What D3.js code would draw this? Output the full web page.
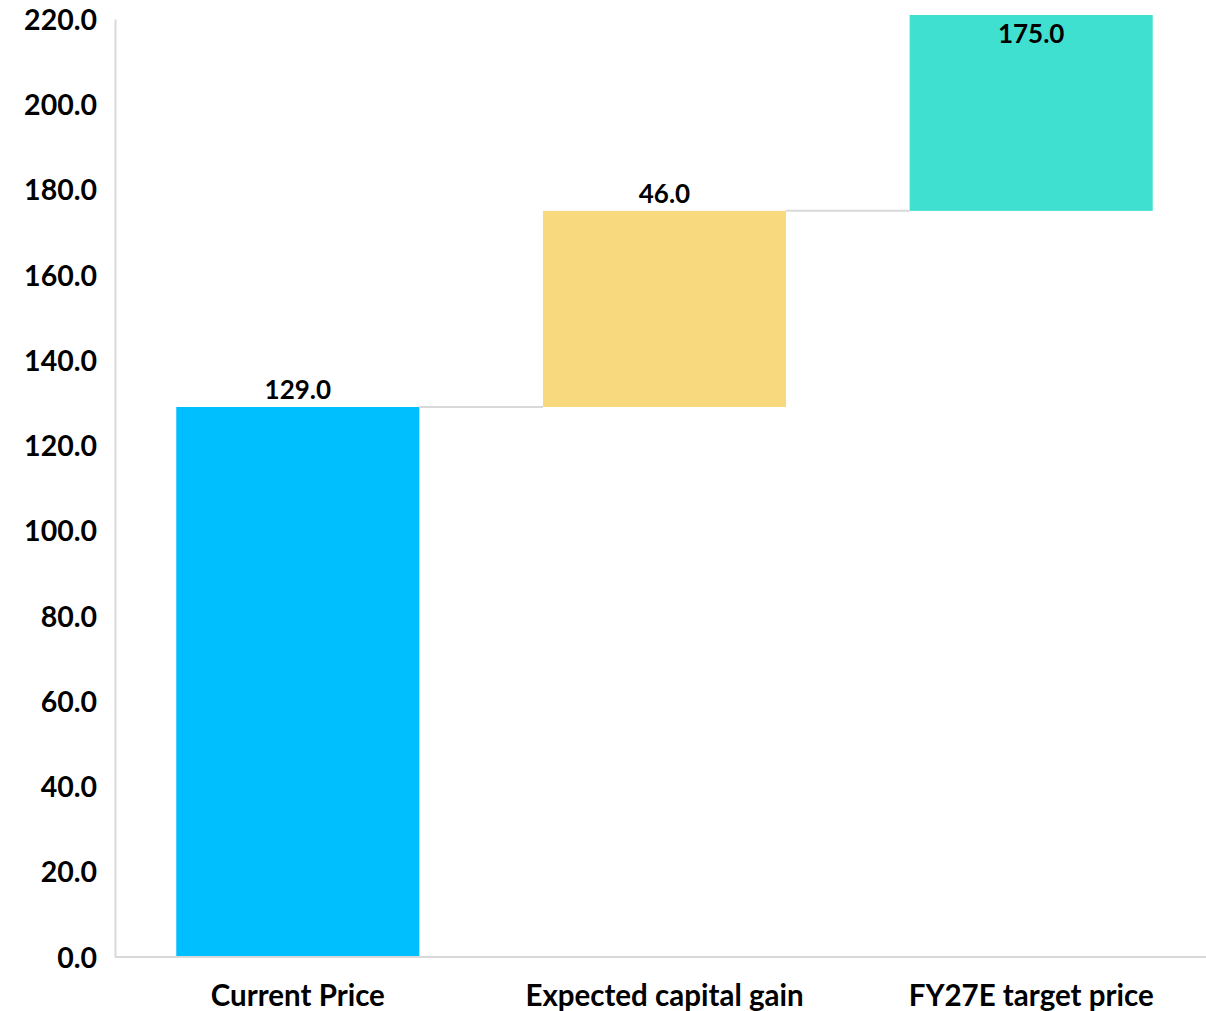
<!DOCTYPE html>
<html><head><meta charset="utf-8">
<script src="https://cdn.jsdelivr.net/npm/d3@7"></script>
<style>body{margin:0;background:#fff}svg{display:block}</style>
</head><body>
<script>
const categories = ["Current Price", "Expected capital gain", "FY27E target price"];
const values = [129.0, 46.0, 175.0];
const bases = [0, 129.0, 175.0];
const colors = ["#00BFFF", "#F9D97E", "#40E0D0"];
const yTicks = [0, 20, 40, 60, 80, 100, 120, 140, 160, 180, 200, 220];

const W = 1206, H = 1011;
const svg = d3.select("body").append("svg").attr("width", W).attr("height", H);
const font = "Lato, 'Open Sans', sans-serif";

const y = d3.scaleLinear().domain([0, 220]).range([957, 19]);
const x = d3.scaleBand().domain(categories).range([114.5, 1214.5]).paddingInner(0.337).paddingOuter(0.1685);

svg.append("defs").append("clipPath").attr("id", "clip")
  .append("rect").attr("x", 0).attr("y", 15).attr("width", W).attr("height", 957 - 15);

// bars
svg.append("g").attr("clip-path", "url(#clip)").selectAll("rect").data(categories).join("rect")
  .attr("x", d => x(d))
  .attr("width", x.bandwidth())
  .attr("y", (d, i) => y(bases[i] + values[i]))
  .attr("height", (d, i) => y(bases[i]) - y(bases[i] + values[i]))
  .attr("fill", (d, i) => colors[i]);

// connectors
for (let i = 0; i < categories.length - 1; i++) {
  const yy = y(bases[i] + values[i]);
  svg.append("line").attr("x1", x(categories[i]) + x.bandwidth()).attr("x2", x(categories[i + 1]))
    .attr("y1", yy).attr("y2", yy).attr("stroke", "#d9d9d9").attr("stroke-width", 2);
}

// axes
const yAxis = d3.axisLeft(y).tickValues(yTicks).tickFormat(d3.format(".1f")).tickSize(0).tickPadding(18);
const gy = svg.append("g").attr("transform", "translate(115,0)").call(yAxis);
gy.select(".domain").attr("stroke", "#d9d9d9").attr("stroke-width", 2);
gy.selectAll("text").attr("font-family", font).attr("font-weight", "bold").attr("font-size", 28.5).attr("fill", "#000").attr("dy", "0.36em");

const gx = svg.append("g").attr("transform", "translate(0,957)").call(d3.axisBottom(x).tickSize(0).tickPadding(28));
gx.select(".domain").attr("d", "M115,0H1206").attr("stroke", "#d9d9d9").attr("stroke-width", 2);
gx.selectAll("text").attr("font-family", font).attr("font-weight", "bold").attr("font-size", 29.5).attr("fill", "#000").attr("dy", "0.71em");

// data labels
svg.append("g").selectAll("text").data(categories).join("text")
  .attr("x", d => x(d) + x.bandwidth() / 2)
  .attr("y", (d, i) => {
    const top = y(bases[i] + values[i]);
    return top < 19 ? 43 : top - 8;
  })
  .attr("text-anchor", "middle")
  .attr("font-family", font).attr("font-weight", "bold").attr("font-size", 26).attr("fill", "#000")
  .text((d, i) => d3.format(".1f")(values[i]));
</script>
</body></html>
